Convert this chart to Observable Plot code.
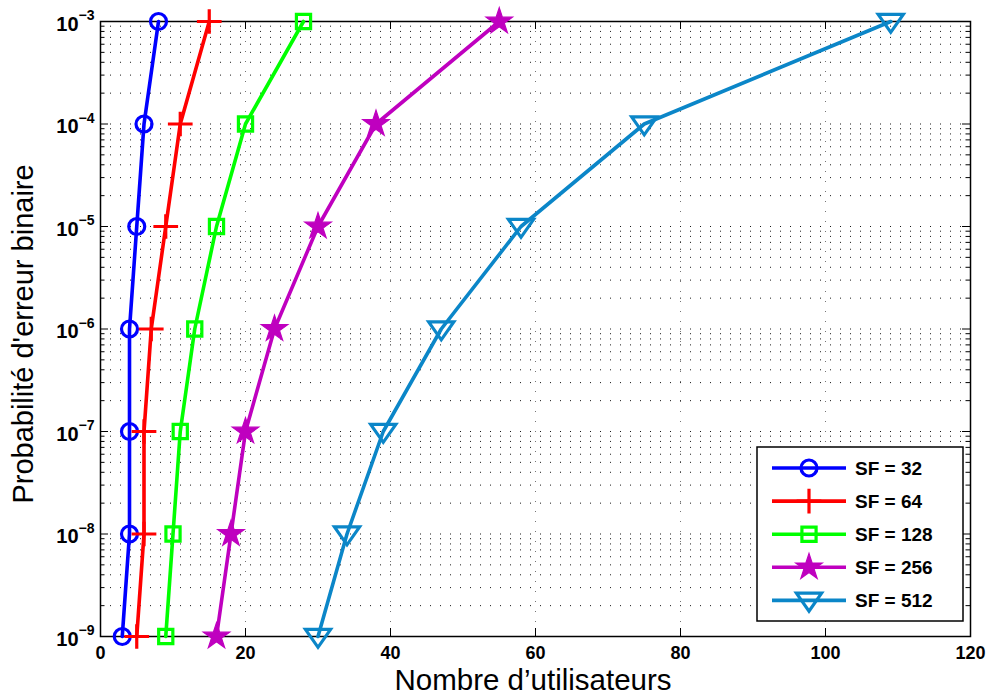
<!DOCTYPE html>
<html><head><meta charset="utf-8">
<script src="https://cdn.jsdelivr.net/npm/d3@7"></script>
<script src="https://cdn.jsdelivr.net/npm/@observablehq/plot@0.6"></script>
<style>
body{margin:0;background:#fff;}
#wrap{position:relative;width:990px;height:695px;overflow:hidden;}
</style></head><body><div id="wrap"></div>
<script>
// ---- data ----
const yValues = [1e-9, 1e-8, 1e-7, 1e-6, 1e-5, 1e-4, 1e-3];
const seriesNames = ["SF = 32", "SF = 64", "SF = 128", "SF = 256", "SF = 512"];
const sf32  = [3, 4, 4, 4, 5, 6, 8];
const sf64  = [5, 6, 6, 7, 9, 11, 15];
const sf128 = [9, 10, 11, 13, 16, 20, 28];
const sf256 = [16, 18, 20, 24, 30, 38, 55];
const sf512 = [30, 34, 39, 47, 58, 75, 109];
const xTicks = [0, 20, 40, 60, 80, 100, 120];
const xGridTicks = [20, 40, 60, 80, 100];
const xLabel = "Nombre d’utilisateurs";
const yLabel = "Probabilité d'erreur binaire";

// ---- styling ----
const colors = ["#0000ff", "#ff0000", "#00ff00", "#bf00bf", "#0b86c8"];
const triangleDown = {
  draw(ctx, size) {
    const R = Math.sqrt(size / Math.PI);
    ctx.moveTo(-1.4 * R, -0.8 * R);
    ctx.lineTo(1.4 * R, -0.8 * R);
    ctx.lineTo(0, 1.2 * R);
    ctx.closePath();
  }
};
const markerDefs = [
  {symbol: "circle", r: 8, filled: false, d3sym: d3.symbolCircle},
  {symbol: "plus", r: 8, filled: false, d3sym: d3.symbolPlus},
  {symbol: "square", r: 8, filled: false, d3sym: d3.symbolSquare},
  {symbol: "star", r: 8.3, filled: true, d3sym: d3.symbolStar},
  {symbol: triangleDown, r: 9, filled: false, d3sym: triangleDown}
];
const seriesData = [sf32, sf64, sf128, sf256, sf512];

const W = 990, H = 695, mL = 100, mR = 20, mT = 21, mB = 59;
const innerW = W - mL - mR, innerH = H - mT - mB;
const FONT = "'Liberation Sans', Arial, sans-serif";

const minorY = [];
for (let e = -9; e < -3; e++) for (let m = 1; m <= 9; m++) minorY.push(m * Math.pow(10, e));
minorY.push(1e-3);
const minorOnly = minorY.filter(v => !yValues.some(d => Math.abs(d - v) / d < 1e-9));

const marks = [
  Plot.gridY(minorY, {y: d => d, stroke: "#000", strokeOpacity: 0.9, strokeDasharray: "1,9", strokeWidth: 1}),
  Plot.gridX(xGridTicks, {x: d => d, stroke: "#666", strokeOpacity: 0.9, strokeDasharray: "1,9", strokeWidth: 1}),
  // inward ticks
  Plot.tickX(xTicks, {x: d => d, insetTop: innerH - 8, stroke: "#000", strokeWidth: 1}),
  Plot.tickX(xTicks, {x: d => d, insetBottom: innerH - 8, stroke: "#000", strokeWidth: 1}),
  Plot.tickY(yValues, {y: d => d, insetRight: innerW - 8, stroke: "#000", strokeWidth: 1}),
  Plot.tickY(yValues, {y: d => d, insetLeft: innerW - 8, stroke: "#000", strokeWidth: 1}),
  Plot.tickY(minorOnly, {y: d => d, insetRight: innerW - 4.5, stroke: "#000", strokeWidth: 1}),
  Plot.tickY(minorOnly, {y: d => d, insetLeft: innerW - 4.5, stroke: "#000", strokeWidth: 1}),
  Plot.frame({stroke: "#000", strokeWidth: 1.5}),
  Plot.axisX({ticks: xTicks, tickSize: 0, tickPadding: 10, fontSize: 18, fontWeight: "bold", label: null, tickFormat: d => String(d)}),
  Plot.axisY({ticks: yValues, tickSize: 0, tickPadding: 6, fontSize: 20, fontWeight: "bold", label: null, dy: 3,
    tickFormat: d => String(Math.round(Math.log10(d)))})
];
seriesData.forEach((xs, i) => {
  const md = markerDefs[i];
  marks.push(Plot.line(yValues, {x: xs, y: yValues, stroke: colors[i], strokeWidth: 3.6}));
  marks.push(Plot.dot(yValues, {x: xs, y: yValues, symbol: md.symbol, r: md.r,
    stroke: colors[i], fill: md.filled ? colors[i] : "none", strokeWidth: md.filled ? 1.2 : 3.2}));
});

const svg = Plot.plot({
  width: W, height: H,
  marginLeft: mL, marginRight: mR, marginTop: mT, marginBottom: mB,
  style: {fontFamily: FONT, background: "#fff", overflow: "visible"},
  x: {domain: [0, 120]},
  y: {type: "log", domain: [1e-9, 1e-3]},
  marks
});

// superscript exponents on y tick labels
const ns = "http://www.w3.org/2000/svg";
svg.querySelectorAll('g[aria-label="y-axis tick label"] text').forEach(t => {
  const e = t.textContent.replace("-", "−");
  t.textContent = "";
  const a = document.createElementNS(ns, "tspan"); a.textContent = "10";
  const b = document.createElementNS(ns, "tspan"); b.textContent = e;
  b.setAttribute("font-size", "14"); b.setAttribute("dy", "-0.75em");
  t.append(a, b);
});

const s = d3.select(svg);
// axis titles
s.append("text").attr("x", 533).attr("y", 690).attr("text-anchor", "middle")
  .attr("font-size", 29.5).attr("font-family", FONT).attr("fill", "#000").text(xLabel);
s.append("text").attr("transform", "translate(33,334) rotate(-90)").attr("text-anchor", "middle")
  .attr("font-size", 29).attr("font-family", FONT).attr("fill", "#000").text(yLabel);

// legend
const lg = s.append("g").attr("aria-label", "legend");
lg.append("rect").attr("x", 757).attr("y", 447).attr("width", 206).attr("height", 174)
  .attr("fill", "#fff").attr("stroke", "#000").attr("stroke-width", 1.5);
seriesNames.forEach((name, i) => {
  const y = 468 + i * 33.1;
  const md = markerDefs[i];
  lg.append("line").attr("x1", 772).attr("x2", 846).attr("y1", y).attr("y2", y)
    .attr("stroke", colors[i]).attr("stroke-width", 3.6);
  lg.append("path").attr("transform", `translate(809,${y})`)
    .attr("d", d3.symbol(md.d3sym, Math.PI * md.r * md.r)())
    .attr("fill", md.filled ? colors[i] : "none").attr("stroke", colors[i])
    .attr("stroke-width", md.filled ? 1.2 : 3.2);
  lg.append("text").attr("x", 855).attr("y", y + 6.8).attr("text-anchor", "start")
    .attr("font-size", 19).attr("font-weight", "bold")
    .attr("font-family", FONT).attr("fill", "#000").text(name);
});

document.getElementById("wrap").append(svg);
</script></body></html>
